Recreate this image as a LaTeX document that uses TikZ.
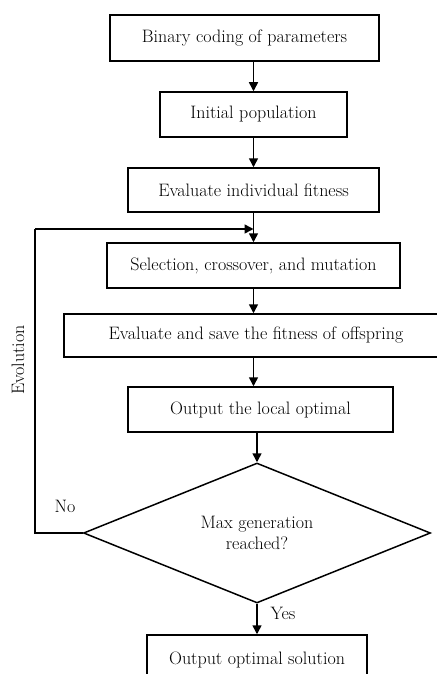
\documentclass[tikz,border=0pt]{standalone}
\usetikzlibrary{arrows.meta,shapes.geometric}
\begin{document}
\begin{tikzpicture}[x=1pt,y=-1pt,
  every node/.style={font=\fontsize{18}{21}\selectfont},
  box/.style={draw,line width=1.5pt,rectangle,inner sep=0pt,align=center},
  dec/.style={draw,line width=1.5pt,diamond,aspect=2.5,inner sep=0pt,minimum width=347pt,minimum height=140pt,align=center},
  arr/.style={line width=1.5pt,-{Triangle[length=9pt,width=9pt]}},
  ln/.style={line width=1.5pt}]
\useasboundingbox (0,0) rectangle (436,674);
\node[box,minimum width=269pt,minimum height=46pt] (b1) at (244.5,38) {Binary coding of parameters};
\node[box,minimum width=187pt,minimum height=45pt] (b2) at (253.5,114.5) {Initial population};
\node[box,minimum width=251pt,minimum height=44pt] (b3) at (253.5,190) {Evaluate individual fitness};
\node[box,minimum width=293pt,minimum height=45pt] (b4) at (253.5,265.5) {Selection, crossover, and mutation};
\node[box,minimum width=384pt,minimum height=43pt] (b5) at (256,335.5) {Evaluate and save the fitness of offspring};
\node[box,minimum width=265pt,minimum height=45pt] (b6) at (260.5,409.5) {Output the local optimal};
\node[dec] (d) at (257,533) {Max generation\\reached?};
\node[box,minimum width=220pt,minimum height=50pt] (b7) at (257,660) {Output optimal solution};
\coordinate (lp) at (253.5,229);
\coordinate (c1) at (35,533);
\coordinate (c2) at (35,229);
\draw[arr] (b1.south -| b2.north) -- (b2.north);
\draw[arr] (b2.south) -- (b3.north);
\draw[arr] (b3.south) -- (b4.north);
\draw[arr] (b4.south) -- (b4.south |- b5.north);
\draw[arr] (b5.south -| b4.south) -- (b6.north -| b4.south);
\draw[arr] (b6.south -| d.north) -- (d.north);
\draw[arr] (d.south) -- (b7.north -| d.south);
\draw[ln] (d.west) -- (c1) -- (c2);
\draw[arr] (c2) -- (lp);
\node[rotate=90] (evo) at (18,360) {Evolution};
\node (no) at (65,506) {No};
\node (yes) at (283,613) {Yes};
\end{tikzpicture}
\end{document}
